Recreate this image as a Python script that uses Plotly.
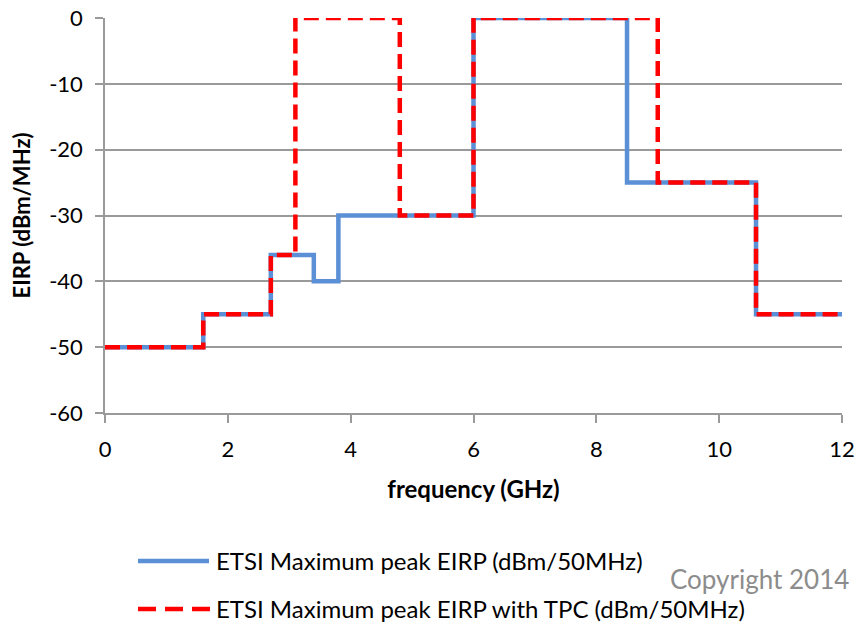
import plotly.graph_objects as go

# Step breakpoints (GHz) and the EIRP level held up to the next breakpoint (dBm/MHz)
freq_etsi = [0, 1.6, 2.7, 3.4, 3.8, 6.0, 8.5, 10.6, 12]
eirp_etsi = [-50, -45, -36, -40, -30, 0, -25, -45]

freq_tpc = [0, 1.6, 2.7, 3.1, 4.8, 6.0, 9.0, 10.6, 12]
eirp_tpc = [-50, -45, -36, 0, -30, 0, -25, -45]

name_etsi = "ETSI Maximum peak EIRP (dBm/50MHz)"
name_tpc = "ETSI Maximum peak EIRP with TPC (dBm/50MHz)"

x_ticks = [0, 2, 4, 6, 8, 10, 12]
y_ticks = [0, -10, -20, -30, -40, -50, -60]

BLUE = "#5B8FD6"
RED = "#FF0000"
GRID = "#9A9A9A"
FONT = "Lato, 'Open Sans', sans-serif"

fig = go.Figure()
fig.add_trace(go.Scatter(
    x=freq_etsi, y=eirp_etsi + [eirp_etsi[-1]], mode="lines", line_shape="hv",
    line=dict(color=BLUE, width=4.5), name=name_etsi, showlegend=False,
))
fig.add_trace(go.Scatter(
    x=freq_tpc, y=eirp_tpc + [eirp_tpc[-1]], mode="lines", line_shape="hv",
    line=dict(color=RED, width=4.5, dash="15px,7px"), name=name_tpc, showlegend=False,
))

W, H = 859, 622
L, R, T, B = 105, 17, 18, 209
PW, PH = W - L - R, H - T - B


def fx(xp):
    """page pixel x -> plot-area paper fraction"""
    return (xp - L) / PW


def fy(yp):
    """page pixel y -> plot-area paper fraction"""
    return ((H - yp) - B) / PH


# hand-built legend below the plot
shapes = [
    dict(type="line", xref="paper", yref="paper",
         x0=fx(138), x1=fx(209), y0=fy(561), y1=fy(561),
         line=dict(color=BLUE, width=4.5)),
    dict(type="line", xref="paper", yref="paper",
         x0=fx(138), x1=fx(210), y0=fy(609), y1=fy(609),
         line=dict(color=RED, width=4.5, dash="18px,9px")),
]


def ann(text, xp, yp, **kw):
    return dict(text=text, xref="paper", yref="paper", x=fx(xp), y=fy(yp),
                showarrow=False, xanchor="left", yanchor="middle", **kw)


annotations = [
    ann(name_etsi, 214, 560, font=dict(family=FONT, size=24, color="#000000")),
    ann(name_tpc, 214, 608, font=dict(family=FONT, size=24, color="#000000")),
    ann("Copyright 2014", 668, 579, font=dict(family=FONT, size=26, color="#8C8C8C")),
]

fig.update_layout(
    width=W, height=H,
    margin=dict(l=L, r=R, t=T, b=B, autoexpand=False),
    paper_bgcolor="white", plot_bgcolor="white",
    font=dict(family=FONT, size=22, color="#000000"),
    shapes=shapes, annotations=annotations,
    showlegend=False,
)
fig.update_xaxes(
    range=[0, 12], tickvals=x_ticks, ticktext=[str(v) for v in x_ticks],
    showgrid=False, zeroline=False, automargin=False,
    showline=True, linecolor=GRID, linewidth=1.5,
    ticks="outside", ticklen=8, tickcolor=GRID, tickwidth=1.5,
    tickfont=dict(size=22), ticklabelstandoff=8,
    title=dict(text="<b>frequency (GHz)</b>", font=dict(size=24), standoff=20),
)
fig.update_yaxes(
    range=[-60, 0], tickvals=y_ticks, ticktext=[str(v) for v in y_ticks],
    showgrid=True, gridcolor=GRID, gridwidth=1.5, zeroline=False, automargin=False,
    showline=True, linecolor=GRID, linewidth=1.5,
    ticks="outside", ticklen=8, tickcolor=GRID, tickwidth=1.5,
    tickfont=dict(size=22), ticklabelstandoff=8,
    title=dict(text="<b>EIRP (dBm/MHz)</b>", font=dict(size=22), standoff=12),
)

fig.write_html("out.html")
